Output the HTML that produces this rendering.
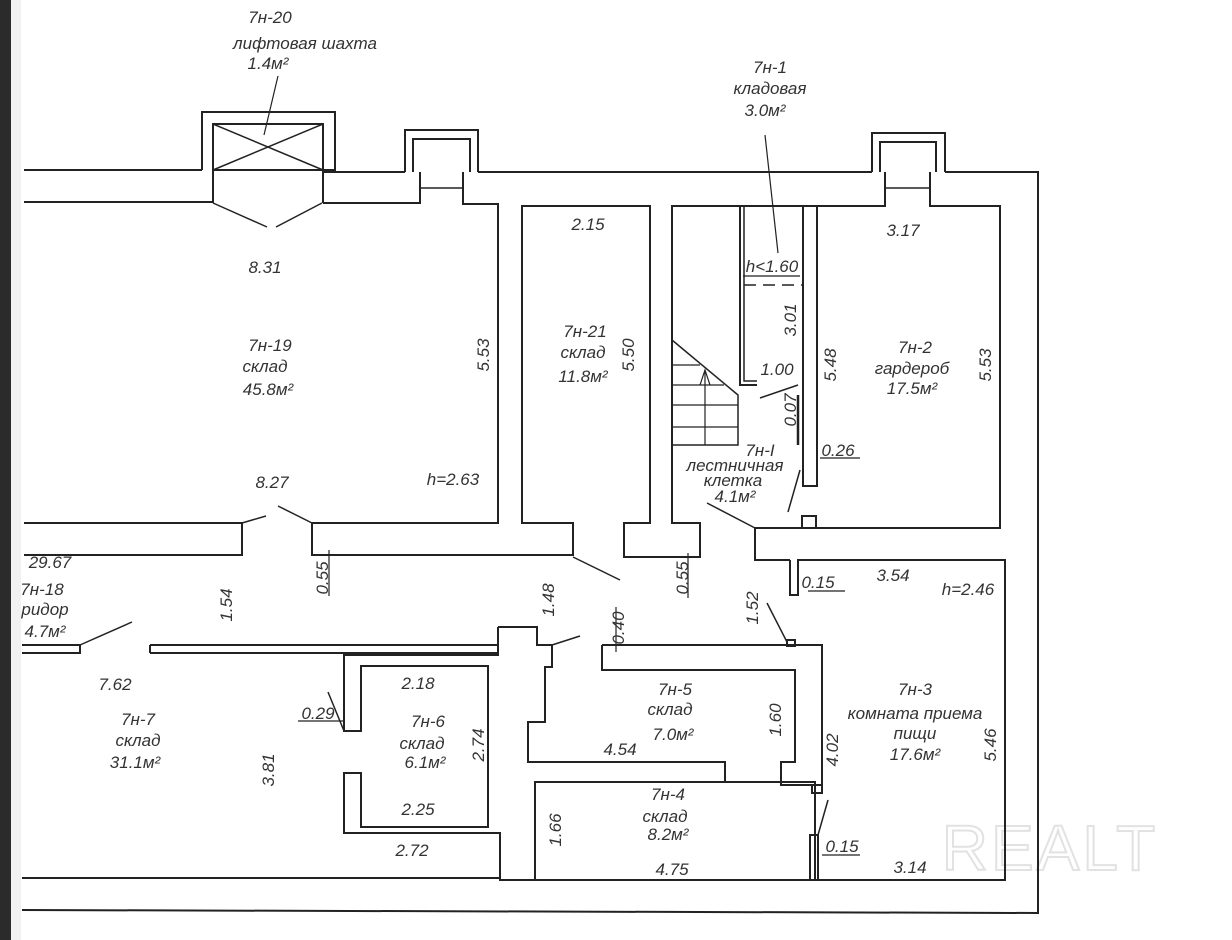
<!DOCTYPE html>
<html><head><meta charset="utf-8"><style>
html,body{margin:0;padding:0;background:#fff;width:1232px;height:940px;overflow:hidden}
svg{display:block}
text{font-family:"Liberation Sans",sans-serif;font-style:italic;font-size:17px;fill:#333;text-anchor:middle}
</style></head><body>
<svg width="1232" height="940" viewBox="0 0 1232 940">
<rect x="0" y="0" width="11" height="940" fill="#2b2b2b"/>
<rect x="11" y="0" width="10" height="940" fill="#f1f1f1"/>
<text x="1050" y="870" style="font-size:64px;font-style:normal;fill:none;stroke:#e2e2e2;stroke-width:2;letter-spacing:3px">REALT</text>
<g fill="none" stroke="#222" stroke-width="2">
<polyline points="24,170 202,170"/>
<polyline points="24,202 213,202"/>
<polyline points="323,170 335,170"/>
<polyline points="323,172 405,172"/>
<polyline points="478,172 872,172"/>
<polyline points="945,172 1038,172 1038,913 22,910"/>
<polyline points="22,878 500,878"/>
<polyline points="202,170 202,112 335,112 335,172"/>
<rect x="213" y="124" width="110" height="46"/>
<line x1="213" y1="124" x2="323" y2="170" stroke-width="1.5"/>
<line x1="323" y1="124" x2="213" y2="170" stroke-width="1.5"/>
<line x1="213" y1="170" x2="213" y2="203"/>
<line x1="323" y1="170" x2="323" y2="203"/>
<polyline points="213,203 267,227" stroke-width="1.5"/>
<polyline points="276,227 322,203" stroke-width="1.5"/>
<polyline points="323,203 420,203 420,172"/>
<polyline points="405,172 405,130 478,130 478,172"/>
<polyline points="413,172 413,139 470,139 470,172"/>
<line x1="420" y1="188" x2="463" y2="188" stroke-width="1.5"/>
<polyline points="463,172 463,204 498,204 498,523 312,523 312,555 573,555 573,523 522,523 522,206 650,206 650,523 624,523 624,557 700,557 700,523 672,523 672,206 885,206 885,172"/>
<polyline points="872,172 872,133 945,133 945,172"/>
<polyline points="880,172 880,142 936,142 936,172"/>
<line x1="885" y1="188" x2="930" y2="188" stroke-width="1.5"/>
<polyline points="930,172 930,206 1000,206 1000,528 755,528 755,560 790,560"/>
<polyline points="24,523 242,523 242,555 24,555"/>
<line x1="242" y1="523" x2="266" y2="516" stroke-width="1.5"/>
<line x1="278" y1="506" x2="312" y2="523" stroke-width="1.5"/>
<line x1="573" y1="557" x2="620" y2="580" stroke-width="1.5"/>
<line x1="707" y1="503" x2="755" y2="528" stroke-width="1.5"/>
<polyline points="740,206 740,385 757,385"/>
<polyline points="744,206 744,381 757,381" stroke-width="1.5"/>
<line x1="744" y1="285" x2="803" y2="285" stroke-width="1.5" stroke-dasharray="12,7"/>
<polyline points="803,206 803,486 817,486 817,206"/>
<polyline points="672,340 738,395 738,445 672,445" stroke-width="1.5"/>
<g stroke-width="1.2"><line x1="672" y1="365" x2="700" y2="365"/><line x1="672" y1="385" x2="724" y2="385"/><line x1="672" y1="405" x2="738" y2="405"/><line x1="672" y1="427" x2="738" y2="427"/>
<line x1="705" y1="445" x2="705" y2="370"/><polyline points="700,385 705,370 710,385"/></g>
<line x1="798" y1="395" x2="798" y2="445" stroke-width="2.5"/>
<line x1="760" y1="398" x2="798" y2="385" stroke-width="1.5"/>
<line x1="800" y1="470" x2="788" y2="512" stroke-width="1.5"/>
<rect x="802" y="516" width="14" height="12"/>
<polyline points="790,560 790,595 798,595 798,560 1005,560 1005,880 815,880"/>
<rect x="810" y="835" width="8" height="45"/>
<line x1="818" y1="835" x2="828" y2="800" stroke-width="1.5"/>
<rect x="787" y="640" width="8" height="6"/>
<line x1="767" y1="603" x2="787" y2="642" stroke-width="1.5"/>
<polyline points="602,645 822,645 822,785 781,785 781,762 795,762 795,670 602,670 602,645"/>
<rect x="812" y="785" width="10" height="8"/>
<polyline points="498,627 537,627 537,645 552,645 552,667 545,667 545,722 528,722 528,762 725,762 725,782 535,782 535,880 500,880 500,833 344,833 344,773 361,773 361,827 488,827 488,666 361,666 361,731 344,731 344,655 498,655 498,627"/>
<line x1="552" y1="645" x2="580" y2="636" stroke-width="1.5"/>
<polyline points="535,782 535,880 815,880 815,782 725,782"/>
<polyline points="150,645 498,645"/><polyline points="150,653 498,653"/><line x1="150" y1="645" x2="150" y2="653"/>
<polyline points="22,645 80,645 80,653 22,653"/>
<line x1="80" y1="645" x2="132" y2="622" stroke-width="1.5"/>
<line x1="344" y1="731" x2="328" y2="692" stroke-width="1.5"/>
<g stroke-width="1.2">
<line x1="278" y1="76" x2="264" y2="135"/>
<line x1="765" y1="135" x2="778" y2="253"/>
<line x1="743" y1="276" x2="800" y2="276"/>
<line x1="820" y1="458" x2="860" y2="458"/>
<line x1="808" y1="591" x2="845" y2="591"/>
<line x1="822" y1="855" x2="860" y2="855"/>
<line x1="298" y1="721" x2="345" y2="721"/>
<line x1="329" y1="550" x2="329" y2="596"/>
<line x1="688" y1="553" x2="688" y2="598"/>
<line x1="616" y1="607" x2="616" y2="652"/>
</g>
</g>
<g>
<text x="270" y="23">7н-20</text><text x="305" y="49">лифтовая шахта</text><text x="268" y="69">1.4м²</text>
<text x="770" y="73">7н-1</text><text x="770" y="94">кладовая</text><text x="765" y="116">3.0м²</text>
<text x="265" y="273">8.31</text><text x="270" y="351">7н-19</text><text x="265" y="372">склад</text><text x="268" y="395">45.8м²</text>
<text x="272" y="488">8.27</text><text x="453" y="485">h=2.63</text>
<text x="588" y="230">2.15</text><text x="585" y="337">7н-21</text><text x="583" y="358">склад</text><text x="583" y="382">11.8м²</text>
<text x="772" y="272">h&lt;1.60</text><text x="777" y="375">1.00</text>
<text x="760" y="456">7н-I</text><text x="735" y="471">лестничная</text><text x="733" y="486">клетка</text><text x="735" y="502">4.1м²</text>
<text x="903" y="236">3.17</text><text x="915" y="353">7н-2</text><text x="912" y="374">гардероб</text><text x="912" y="394">17.5м²</text>
<text x="838" y="456">0.26</text>
<text x="50" y="568">29.67</text><text x="42" y="595">7н-18</text><text x="45" y="615">ридор</text><text x="45" y="637">4.7м²</text>
<text x="818" y="588">0.15</text><text x="893" y="581">3.54</text><text x="968" y="595">h=2.46</text>
<text x="115" y="690">7.62</text><text x="138" y="725">7н-7</text><text x="138" y="746">склад</text><text x="135" y="768">31.1м²</text>
<text x="318" y="719">0.29</text><text x="418" y="689">2.18</text><text x="428" y="727">7н-6</text><text x="422" y="749">склад</text><text x="425" y="768">6.1м²</text>
<text x="418" y="815">2.25</text><text x="412" y="856">2.72</text>
<text x="675" y="695">7н-5</text><text x="670" y="715">склад</text><text x="673" y="740">7.0м²</text><text x="620" y="755">4.54</text>
<text x="915" y="695">7н-3</text><text x="915" y="719">комната приема</text><text x="915" y="739">пищи</text><text x="915" y="760">17.6м²</text>
<text x="668" y="800">7н-4</text><text x="665" y="822">склад</text><text x="668" y="840">8.2м²</text><text x="672" y="875">4.75</text>
<text x="842" y="852">0.15</text><text x="910" y="873">3.14</text>
<text transform="translate(489,355) rotate(-90)">5.53</text>
<text transform="translate(634,355) rotate(-90)">5.50</text>
<text transform="translate(796,320) rotate(-90)">3.01</text>
<text transform="translate(796,410) rotate(-90)">0.07</text>
<text transform="translate(836,365) rotate(-90)">5.48</text>
<text transform="translate(991,365) rotate(-90)">5.53</text>
<text transform="translate(232,605) rotate(-90)">1.54</text>
<text transform="translate(328,578) rotate(-90)">0.55</text>
<text transform="translate(554,600) rotate(-90)">1.48</text>
<text transform="translate(624,628) rotate(-90)">0.40</text>
<text transform="translate(688,578) rotate(-90)">0.55</text>
<text transform="translate(758,608) rotate(-90)">1.52</text>
<text transform="translate(274,770) rotate(-90)">3.81</text>
<text transform="translate(484,745) rotate(-90)">2.74</text>
<text transform="translate(781,720) rotate(-90)">1.60</text>
<text transform="translate(838,750) rotate(-90)">4.02</text>
<text transform="translate(996,745) rotate(-90)">5.46</text>
<text transform="translate(561,830) rotate(-90)">1.66</text>
</g>
</svg>
</body></html>
